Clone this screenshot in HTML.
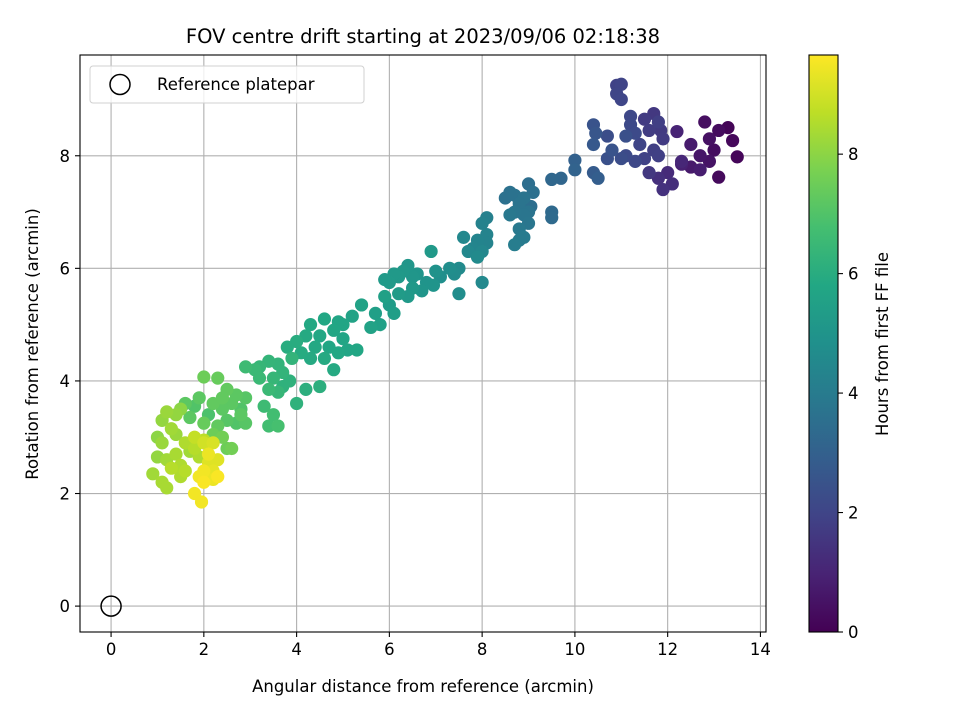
<!DOCTYPE html>
<html><head><meta charset="utf-8"><style>
body{margin:0;background:#fff}
svg{display:block;font-family:"DejaVu Sans","Liberation Sans",sans-serif}
</style></head><body>
<svg id="chart" width="960" height="720" xmlns="http://www.w3.org/2000/svg">
<rect width="960" height="720" fill="#fff"/>
<g id="grid"></g>
<g id="pts"></g>
<g id="axes"></g>
<text x="423" y="43" text-anchor="middle" font-size="19.5">FOV centre drift starting at 2023/09/06 02:18:38</text>
<text x="423" y="692" text-anchor="middle" font-size="16.5">Angular distance from reference (arcmin)</text>
<text transform="translate(38,344) rotate(-90)" text-anchor="middle" font-size="16.5">Rotation from reference (arcmin)</text>
<text transform="translate(888,344) rotate(-90)" text-anchor="middle" font-size="16.5">Hours from first FF file</text>
<g>
<rect x="90" y="66" width="274" height="37" rx="3" fill="#fff" fill-opacity="0.8" stroke="#d0d0d0"/>
<circle cx="120" cy="84.5" r="10" fill="none" stroke="#000" stroke-width="1.5"/>
<text x="157" y="90" font-size="16.5">Reference platepar</text>
</g>
</svg>
<script>
const xVals=[13.3,13.4,13.5,13.1,12.8,13.0,13.1,12.9,12.7,12.5,12.7,12.3,12.2,12.5,12.9,12.1,11.9,12.0,11.8,12.3,
10.9,11.0,10.9,11.0,11.2,11.5,11.7,11.8,11.6,11.3,11.1,10.7,10.4,10.45,10.4,10.8,11.1,11.4,11.7,11.9,11.5,11.3,11.0,10.7,11.6,11.8,10.4,10.5,11.2,11.85,
10.0,10.0,9.7,9.5,9.5,9.5,9.05,
8.6,8.7,8.9,9.0,8.8,8.5,8.7,8.6,8.9,9.0,8.8,8.9,8.8,8.7,9.0,9.1,
8.1,8.0,8.1,7.9,7.8,8.1,7.6,8.0,7.7,7.9,8.0,7.5,7.5,7.4,7.3,7.1,6.9,
6.95,6.8,6.6,6.5,6.4,6.3,6.2,6.1,6.0,6.5,6.4,6.2,5.9,6.0,6.1,5.9,5.7,5.6,5.8,6.7,7.0,
5.4,5.2,5.0,4.9,4.8,4.6,4.5,4.3,4.2,4.4,4.7,5.0,5.1,4.9,4.6,4.3,4.1,4.0,3.8,4.8,5.3,4.5,4.2,4.0,3.7,
3.6,3.4,3.2,3.1,2.9,3.5,3.7,3.2,3.4,3.6,3.3,3.5,3.6,3.4,3.85,3.9,
2.0,2.3,2.5,2.7,2.9,2.6,2.8,2.4,2.2,1.9,1.8,2.1,2.5,2.7,2.9,2.3,2.0,1.7,2.4,2.5,2.6,2.2,1.6,2.8,2.4,
1.0,1.1,1.2,1.4,1.5,1.3,1.1,1.0,1.2,1.4,1.6,1.8,2.0,1.9,1.5,1.3,1.1,0.9,1.2,1.5,1.6,1.8,2.0,2.2,2.3,2.2,2.1,2.0,1.9,2.3,2.0,1.8,1.95,2.2,2.1,1.4,1.7];
const yVals=[8.5,8.27,7.98,8.45,8.6,8.1,7.62,7.9,8.0,7.8,7.75,7.85,8.43,8.2,8.3,7.5,7.4,7.7,7.6,7.9,
9.25,9.27,9.1,9.0,8.7,8.65,8.75,8.6,8.45,8.4,8.35,8.35,8.55,8.4,8.2,8.1,8.0,8.2,8.1,8.3,7.95,7.9,7.95,7.95,7.7,8.0,7.7,7.6,8.55,8.45,
7.92,7.75,7.6,7.58,7.0,6.9,7.1,
7.35,7.3,7.25,7.5,7.15,7.25,7.0,6.95,6.95,6.8,6.7,6.55,6.5,6.42,7.0,7.35,
6.9,6.8,6.6,6.5,6.35,6.45,6.55,6.3,6.3,6.2,5.75,5.55,6.0,5.9,6.0,5.85,6.3,
5.7,5.75,5.9,5.85,6.05,5.95,5.85,5.9,5.75,5.65,5.5,5.55,5.8,5.35,5.2,5.5,5.2,4.95,5.0,5.6,5.95,
5.35,5.15,5.0,5.05,4.9,5.1,4.8,5.0,4.8,4.6,4.6,4.75,4.55,4.5,4.4,4.4,4.5,4.7,4.6,4.2,4.55,3.9,3.85,3.6,3.9,
4.3,4.35,4.25,4.2,4.25,4.05,4.15,4.05,3.85,3.8,3.55,3.4,3.2,3.2,4.0,4.4,
4.07,4.05,3.85,3.75,3.7,3.6,3.5,3.5,3.6,3.7,3.55,3.4,3.3,3.25,3.25,3.2,3.25,3.35,3.0,2.8,2.8,3.05,3.6,3.4,3.7,
3.0,3.3,3.45,3.4,3.5,3.15,2.9,2.65,2.6,2.7,2.9,2.8,2.95,2.65,2.5,2.45,2.2,2.35,2.1,2.3,2.4,3.0,2.9,2.9,2.6,2.4,2.7,2.4,2.3,2.3,2.2,2.0,1.85,2.25,2.55,3.05,2.75];
const hourVals=[0.1,0.2,0.15,0.3,0.4,0.35,0.25,0.5,0.6,0.7,0.8,0.9,1.0,0.75,0.45,1.3,1.4,1.2,1.35,1.1,
1.9,1.95,2.0,2.05,2.1,1.7,1.6,1.8,1.75,2.2,2.4,2.3,2.5,2.6,2.7,2.5,2.2,2.0,1.8,1.7,1.9,2.1,2.3,2.4,1.6,1.85,2.8,2.9,2.15,1.65,
3.0,3.1,3.2,3.25,3.3,3.35,3.5,
3.6,3.65,3.7,3.5,3.7,3.6,3.8,3.85,3.75,3.8,3.9,4.0,4.0,4.05,3.7,3.55,
4.2,4.25,4.3,4.35,4.4,4.3,4.5,4.45,4.5,4.6,4.55,4.7,4.6,4.65,4.75,4.8,5.2,
5.0,5.0,5.05,5.1,5.1,5.15,5.2,5.2,5.25,5.15,5.2,5.3,5.25,5.35,5.4,5.5,5.45,5.6,5.5,5.05,4.9,
5.6,5.6,5.7,5.7,5.75,5.8,5.8,5.85,5.9,5.85,5.75,5.7,5.7,5.8,5.9,5.9,5.95,6.0,6.0,5.9,5.75,6.1,6.1,6.2,6.2,
6.3,6.35,6.4,6.5,6.6,6.4,6.3,6.5,6.5,6.4,6.6,6.7,6.8,6.7,6.2,6.3,
7.5,7.4,7.3,7.2,7.1,7.2,7.0,7.2,7.3,7.2,7.0,6.9,7.1,7.0,7.1,7.3,7.4,7.2,7.6,7.5,7.6,7.5,7.2,7.2,7.3,
8.0,8.1,8.2,8.1,8.0,8.3,8.2,8.1,8.3,8.4,8.5,8.6,8.7,8.5,8.5,8.6,8.4,8.3,8.4,8.5,8.6,8.8,9.0,9.1,9.2,9.3,9.4,9.5,9.5,9.6,9.6,9.5,9.5,9.4,9.2,8.2,8.3];
const xTicks=[0,2,4,6,8,10,12,14];
const yTicks=[0,2,4,6,8];
const cbTicks=[0,2,4,6,8];
const refPoint=[0,0];

const NS="http://www.w3.org/2000/svg";
const L=80,R=766,T=55,B=632;
const xMin=-0.67,xMax=14.12,yMin=-0.46,yMax=9.79,hMax=9.66;
const sx=v=>L+(v-xMin)/(xMax-xMin)*(R-L);
const sy=v=>B-(v-yMin)/(yMax-yMin)*(B-T);
const CBL=809,CBR=838;
const sc=v=>B-v/hMax*(B-T);
const vir=[[68,1,84],[72,35,116],[64,67,135],[52,94,141],[41,120,142],[32,144,140],[34,167,132],[68,190,112],[121,209,81],[189,222,38],[253,231,37]];
function viridis(t){t=Math.max(0,Math.min(1,t));const p=t*10,i=Math.min(9,Math.floor(p)),f=p-i;const a=vir[i],b=vir[i+1];return `rgb(${a.map((c,k)=>Math.round(c+(b[k]-c)*f)).join(',')})`;}
function mk(tag,attrs,parent){const e=document.createElementNS(NS,tag);for(const k in attrs)e.setAttribute(k,attrs[k]);parent.appendChild(e);return e;}
const svg=document.getElementById('chart'),grid=document.getElementById('grid'),pts=document.getElementById('pts'),axes=document.getElementById('axes');
xTicks.forEach(t=>{const x=sx(t);
 const g=mk('line',{x1:x,x2:x,y1:T,y2:B,stroke:'#b0b0b0','stroke-width':1.1},grid);
 
 const tk=mk('line',{x1:x,x2:x,y1:B,y2:B+5,stroke:'#000','stroke-width':1.1},axes);
 
 const tx=mk('text',{x:x,y:B+23,'text-anchor':'middle','font-size':16.5},axes);tx.textContent=t;
 });
yTicks.forEach(t=>{const y=sy(t);
 const g=mk('line',{x1:L,x2:R,y1:y,y2:y,stroke:'#b0b0b0','stroke-width':1.1},grid);
 
 const tk=mk('line',{x1:L-5,x2:L,y1:y,y2:y,stroke:'#000','stroke-width':1.1},axes);
 
 const tx=mk('text',{x:L-10,y:y+6,'text-anchor':'end','font-size':16.5},axes);tx.textContent=t;
 });
const idx=hourVals.map((h,i)=>i).sort((a,b)=>hourVals[a]-hourVals[b]);
idx.forEach(i=>{const c=mk('circle',{cx:sx(xVals[i]),cy:sy(yVals[i]),r:6.6,fill:viridis(hourVals[i]/hMax)},pts);
 });
const ref=mk('circle',{cx:sx(refPoint[0]),cy:sy(refPoint[1]),r:10,fill:'none',stroke:'#000','stroke-width':1.5},pts);

const fr=mk('rect',{x:L,y:T,width:R-L,height:B-T,fill:'none',stroke:'#000','stroke-width':1.1},axes);

const defs=mk('defs',{},svg);const lg=mk('linearGradient',{id:'vg',x1:0,y1:1,x2:0,y2:0},defs);
vir.forEach((c,i)=>mk('stop',{offset:i/10,'stop-color':`rgb(${c.join(',')})`},lg));
const cb=mk('rect',{x:CBL,y:T,width:CBR-CBL,height:B-T,fill:'url(#vg)',stroke:'#000','stroke-width':1.1},svg);

cbTicks.forEach(t=>{const y=sc(t);
 const tk=mk('line',{x1:CBR,x2:CBR+5,y1:y,y2:y,stroke:'#000','stroke-width':1.1},svg);
 
 const tx=mk('text',{x:CBR+10,y:y+6,'font-size':16.5},svg);tx.textContent=t;
 });
</script>
</body></html>
